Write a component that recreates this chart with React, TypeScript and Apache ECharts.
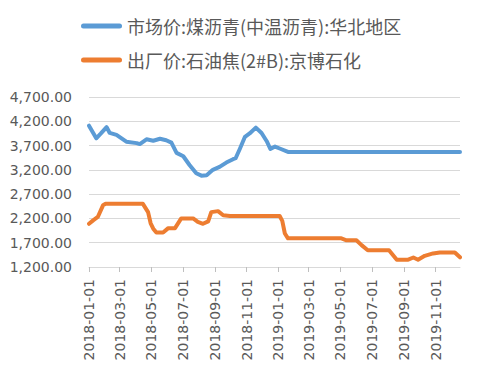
import React, { useEffect, useRef } from "react";
import * as echarts from "echarts";

const seriesNames = ["市场价:煤沥青(中温沥青):华北地区", "出厂价:石油焦(2#B):京博石化"];

const xTickLabels = [
  "2018-01-01", "2018-03-01", "2018-05-01", "2018-07-01", "2018-09-01", "2018-11-01",
  "2019-01-01", "2019-03-01", "2019-05-01", "2019-07-01", "2019-09-01", "2019-11-01",
];
const xStart = "2018-01-01";
const xEnd = "2019-12-18";

const yTicks = [1200, 1700, 2200, 2700, 3200, 3700, 4200, 4700];

const pitchDates = [
  "2018-01-01", "2018-01-15", "2018-01-24", "2018-02-04", "2018-02-10", "2018-02-23",
  "2018-03-14", "2018-04-03", "2018-04-09", "2018-04-22", "2018-05-05", "2018-05-18",
  "2018-05-30", "2018-06-09", "2018-06-19", "2018-07-02", "2018-07-14", "2018-07-27",
  "2018-08-06", "2018-08-16", "2018-08-28", "2018-09-10", "2018-09-23", "2018-10-06",
  "2018-10-11", "2018-10-19", "2018-10-29", "2018-11-07", "2018-11-19", "2018-11-30",
  "2018-12-10", "2018-12-17", "2018-12-26", "2019-01-04", "2019-01-20", "2019-12-18",
];
const pitchValues = [
  4110, 3850, 3950, 4080, 3960, 3920,
  3780, 3750, 3730, 3830, 3800, 3840,
  3810, 3760, 3550, 3480, 3300, 3130,
  3080, 3090, 3200, 3260, 3350, 3420,
  3440, 3630, 3880, 3950, 4070, 3960,
  3790, 3630, 3680, 3640, 3570, 3570,
];

const cokeDates = [
  "2018-01-01", "2018-01-09", "2018-01-18", "2018-01-28", "2018-02-02", "2018-04-15",
  "2018-04-25", "2018-04-30", "2018-05-05", "2018-05-11", "2018-05-24", "2018-06-03",
  "2018-06-16", "2018-06-28", "2018-07-21", "2018-07-30", "2018-08-09", "2018-08-19",
  "2018-08-25", "2018-09-07", "2018-09-17", "2018-09-30", "2019-01-04", "2019-01-09",
  "2019-01-14", "2019-01-20", "2019-05-03", "2019-05-13", "2019-06-01", "2019-06-11",
  "2019-06-23", "2019-08-03", "2019-08-18", "2019-09-09", "2019-09-19", "2019-09-28",
  "2019-10-11", "2019-10-27", "2019-11-09", "2019-12-08", "2019-12-18",
];
const cokeValues = [
  2090, 2160, 2230, 2470, 2500, 2500,
  2330, 2100, 1990, 1910, 1910, 2000,
  2000, 2200, 2200, 2130, 2090, 2140,
  2330, 2350, 2265, 2250, 2250, 2150,
  1890, 1790, 1790, 1750, 1750, 1650,
  1545, 1545, 1350, 1350, 1395, 1350,
  1430, 1480, 1500, 1500, 1400,
];

const DAY = 86400000;
const toUtc = (s: string) => {
  const [y, m, d] = s.split("-").map(Number);
  return Date.UTC(y, m - 1, d);
};
const base = toUtc(xStart);
const dayOf = (s: string) => Math.round((toUtc(s) - base) / DAY);
const dateOfDay = (n: number) => {
  const dt = new Date(base + Math.round(n) * DAY);
  const p = (v: number) => String(v).padStart(2, "0");
  return `${dt.getUTCFullYear()}-${p(dt.getUTCMonth() + 1)}-${p(dt.getUTCDate())}`;
};

const legendIcon =
  "path://M2.5,0 L38.5,0 A2.5,2.5 0 0 1 38.5,5 L2.5,5 A2.5,2.5 0 0 1 2.5,0 Z";

export default function App() {
  const ref = useRef<HTMLDivElement>(null);
  useEffect(() => {
    document.body.style.margin = "0";
    if (!ref.current) return;
    const chart = echarts.init(ref.current, undefined, { renderer: "svg" });
    const tickDays = xTickLabels.map(dayOf);
    const axisFont = "DejaVu Sans";
    chart.setOption({
      animation: false,
      backgroundColor: "#ffffff",
      color: ["#5b9bd5", "#ed7d31"],
      legend: {
        orient: "vertical",
        left: 76,
        top: 12,
        itemGap: 16,
        itemWidth: 41,
        itemHeight: 5,
        itemTextGap: 5,
        icon: legendIcon,
        textStyle: { fontFamily: "Noto Sans CJK SC", fontSize: 18, color: "#595959" },
        data: seriesNames,
      },
      grid: { left: 89, right: 17, top: 97, bottom: 104 },
      xAxis: {
        type: "value",
        min: dayOf(xStart),
        max: dayOf(xEnd),
        axisLine: { show: true, lineStyle: { color: "#d9d9d9", width: 1 } },
        axisTick: {
          show: true,
          customValues: tickDays,
          length: 5,
          lineStyle: { color: "#bfbfbf" },
        },
        axisLabel: {
          customValues: tickDays,
          rotate: 90,
          margin: 12,
          fontFamily: axisFont,
          fontSize: 14,
          color: "#595959",
          formatter: (v: number) => dateOfDay(v),
        },
        splitLine: { show: false },
      },
      yAxis: {
        type: "value",
        min: yTicks[0],
        max: yTicks[yTicks.length - 1],
        interval: yTicks[1] - yTicks[0],
        axisLine: { show: false },
        axisTick: { show: false },
        axisLabel: {
          margin: 17,
          fontFamily: axisFont,
          fontSize: 14,
          color: "#595959",
          formatter: (v: number) =>
            v.toLocaleString("en-US", { minimumFractionDigits: 2, maximumFractionDigits: 2 }),
        },
        splitLine: { lineStyle: { color: "#d9d9d9", width: 1 } },
      },
      series: [
        {
          name: seriesNames[0],
          type: "line",
          symbol: "none",
          lineStyle: { width: 4, cap: "round", join: "round" },
          data: pitchDates.map((d, i) => [dayOf(d), pitchValues[i]]),
        },
        {
          name: seriesNames[1],
          type: "line",
          symbol: "none",
          lineStyle: { width: 4, cap: "round", join: "round" },
          data: cokeDates.map((d, i) => [dayOf(d), cokeValues[i]]),
        },
      ],
    });
    return () => chart.dispose();
  }, []);
  return <div ref={ref} style={{ width: 477, height: 371 }} />;
}
